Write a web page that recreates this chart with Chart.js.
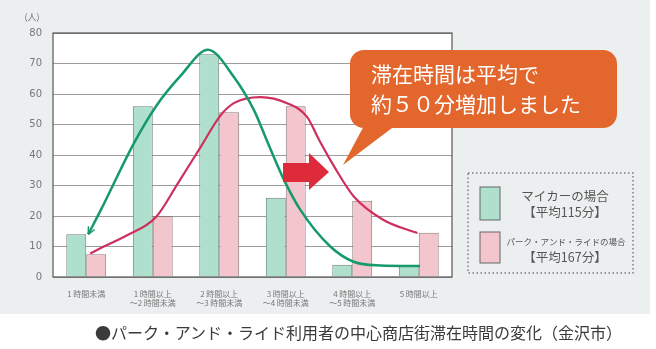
<!DOCTYPE html>
<html>
<head>
<meta charset="UTF-8">
<script src="https://cdn.jsdelivr.net/npm/chart.js"></script>
<style>
  body { margin:0; background:#fff; font-family:'Noto Sans CJK JP','Noto Sans',sans-serif; }
  #wrap { position:relative; width:656px; height:349px; overflow:hidden; }
  #panel { position:absolute; left:0; top:0; width:650px; height:314px; background:#eceff0; }
  canvas { position:absolute; left:0; top:0; }
  #caption { position:absolute; left:95px; top:322px; font-size:16px; line-height:20px; color:#3a3a3a; white-space:nowrap; }
</style>
</head>
<body>
<div id="wrap">
  <div id="panel"></div>
  <canvas id="grafica" width="656" height="349"></canvas>
  <div id="caption">●パーク・アンド・ライド利用者の中心商店街滞在時間の変化（金沢市）</div>
</div>
<script>
// 滞在時間の区分
const categories = [
  ['1 時間未満'],
  ['1 時間以上', '～2 時間未満'],
  ['2 時間以上', '～3 時間未満'],
  ['3 時間以上', '～4 時間未満'],
  ['4 時間以上', '～5 時間未満'],
  ['5 時間以上']
];
// 人数
const myCar = [14, 56, 73, 26, 4, 3.5];
const parkRide = [7.5, 20, 54, 56, 25, 14.5];
const yMax = 80;
const yStep = 10;

// 分布の近似曲線（x は区分の位置）
const myCarCurveX = [0.03, 0.22, 0.72, 1.05, 1.42, 1.83, 2.22, 2.52, 2.73, 2.97, 3.22, 3.67, 4.02, 4.42, 5.02];
const myCarCurveY = [14, 22, 44, 56, 66, 74.5, 65.6, 54.8, 44, 32, 22, 10, 5, 3.8, 3.6];
const parkRideCurveX = [0.06, 0.22, 0.6, 1.05, 1.38, 1.72, 2.02, 2.22, 2.62, 3.02, 3.32, 3.5, 3.72, 4.02, 4.47, 4.98];
const parkRideCurveY = [7.7, 9.5, 13.5, 19.7, 30.8, 42.6, 53, 57, 59, 57, 52.5, 45, 36.5, 26.5, 18.7, 14.4];

const GREEN_FILL = '#aee0cd';
const PINK_FILL = '#f3c6cd';
const GREEN_LINE = '#169a6c';
const PINK_LINE = '#cf2f5c';

const toPoints = (xs, ys) => xs.map((x, i) => ({ x, y: ys[i] }));

// 背景・枠・吹き出し・凡例
const decor = {
  id: 'decor',
  beforeDraw(chart) {
    const { ctx, chartArea: a } = chart;
    ctx.save();
    ctx.fillStyle = '#ffffff';
    ctx.fillRect(a.left, a.top, a.right - a.left, a.bottom - a.top);
    ctx.restore();
  },
  afterDatasetsDraw(chart) {
    const { ctx, chartArea: a } = chart;
    ctx.save();
    ctx.strokeStyle = '#555';
    ctx.lineWidth = 1.2;
    ctx.strokeRect(a.left, a.top, a.right - a.left, a.bottom - a.top);

    // マイカー曲線の始点の矢じり
    const pts = chart.getDatasetMeta(2).data;
    const ang = Math.atan2(pts[1].y - pts[0].y, pts[1].x - pts[0].x);
    ctx.strokeStyle = GREEN_LINE;
    ctx.lineWidth = 1.5;
    ctx.beginPath();
    [-0.45, 0.45].forEach((d) => {
      ctx.moveTo(pts[0].x, pts[0].y);
      ctx.lineTo(pts[0].x + 8 * Math.cos(ang + d), pts[0].y + 8 * Math.sin(ang + d));
    });
    ctx.stroke();

    ctx.fillStyle = '#777';
    ctx.font = '9px "Noto Sans CJK JP"';
    ctx.textAlign = 'center';
    ctx.textBaseline = 'middle';
    ctx.fillText('(人)', a.left - 21, a.top - 16);

    // 右向き矢印
    ctx.fillStyle = '#de2b3c';
    ctx.beginPath();
    ctx.moveTo(283, 163); ctx.lineTo(309, 163); ctx.lineTo(309, 153);
    ctx.lineTo(329, 172); ctx.lineTo(309, 190); ctx.lineTo(309, 182);
    ctx.lineTo(283, 182); ctx.closePath(); ctx.fill();

    // 吹き出し
    ctx.fillStyle = '#e3672c';
    ctx.beginPath();
    ctx.roundRect(350, 50, 267, 78, 14);
    ctx.fill();
    ctx.beginPath();
    ctx.moveTo(366, 122); ctx.lineTo(400, 122); ctx.lineTo(343, 165);
    ctx.closePath(); ctx.fill();
    ctx.fillStyle = '#ffffff';
    ctx.font = '21px "Noto Sans CJK JP"';
    ctx.textAlign = 'left';
    ctx.fillText('滞在時間は平均で', 371, 74);
    ctx.fillText('約５０分増加しました', 371, 104);

    // 凡例
    ctx.strokeStyle = '#777';
    ctx.lineWidth = 1.4;
    ctx.setLineDash([1.5, 2.5]);
    ctx.strokeRect(468, 173, 165, 100);
    ctx.setLineDash([]);
    const ds = chart.data.datasets;
    ctx.lineWidth = 1;
    ctx.strokeStyle = '#666';
    ctx.fillStyle = ds[0].backgroundColor;
    ctx.fillRect(480, 187, 20, 33); ctx.strokeRect(480, 187, 20, 33);
    ctx.fillStyle = ds[1].backgroundColor;
    ctx.fillRect(480, 232, 20, 31); ctx.strokeRect(480, 232, 20, 31);
    ctx.fillStyle = '#555';
    ctx.textAlign = 'center';
    ctx.font = '12.5px "Noto Sans CJK JP"';
    ctx.fillText('マイカーの場合', 565, 196);
    ctx.fillText('【平均115分】', 565, 212);
    ctx.font = '8.5px "Noto Sans CJK JP"';
    ctx.fillText('パーク・アンド・ライドの場合', 566, 242);
    ctx.font = '12.5px "Noto Sans CJK JP"';
    ctx.fillText('【平均167分】', 565, 257);
    ctx.restore();
  }
};

const ctx = document.getElementById('grafica').getContext('2d');
new Chart(ctx, {
  type: 'bar',
  data: {
    datasets: [
      { label: 'マイカーの場合', data: toPoints(categories.map((_, i) => i), myCar),
        backgroundColor: GREEN_FILL, borderColor: '#6f7d76', borderWidth: 1, order: 2 },
      { label: 'パーク・アンド・ライドの場合', data: toPoints(categories.map((_, i) => i), parkRide),
        backgroundColor: PINK_FILL, borderColor: '#8a7a7c', borderWidth: 1, order: 2 },
      { type: 'line', data: toPoints(myCarCurveX, myCarCurveY), borderColor: GREEN_LINE, borderWidth: 2.5,
        pointRadius: 0, fill: false, cubicInterpolationMode: 'monotone', order: 1 },
      { type: 'line', data: toPoints(parkRideCurveX, parkRideCurveY), borderColor: PINK_LINE, borderWidth: 2.2,
        pointRadius: 0, fill: false, cubicInterpolationMode: 'monotone', order: 1 }
    ]
  },
  options: {
    responsive: false,
    animation: false,
    layout: { padding: { left: 23, top: 33, right: 204, bottom: 42 } },
    plugins: { legend: { display: false }, tooltip: { enabled: false } },
    datasets: { bar: { categoryPercentage: 0.6, barPercentage: 1.0 } },
    scales: {
      x: {
        type: 'linear',
        min: -0.5, max: 5.5,
        offset: false,
        grid: { display: false },
        border: { display: false },
        afterBuildTicks(scale) { scale.ticks = categories.map((_, i) => ({ value: i })); },
        ticks: {
          color: '#777', font: { size: 8, family: 'Noto Sans CJK JP' }, maxRotation: 0, autoSkip: false, padding: 4,
          callback: (v) => categories[v]
        },
        afterFit(scale) { scale.height = 30; }
      },
      y: {
        min: 0, max: yMax,
        grid: { color: '#9c9c9c', lineWidth: 1, drawTicks: false },
        border: { display: false },
        ticks: { stepSize: yStep, color: '#777', font: { size: 10, family: 'DejaVu Sans' }, padding: 11 },
        afterFit(scale) { scale.width = 30; }
      }
    }
  },
  plugins: [decor]
});
</script>
</body>
</html>
